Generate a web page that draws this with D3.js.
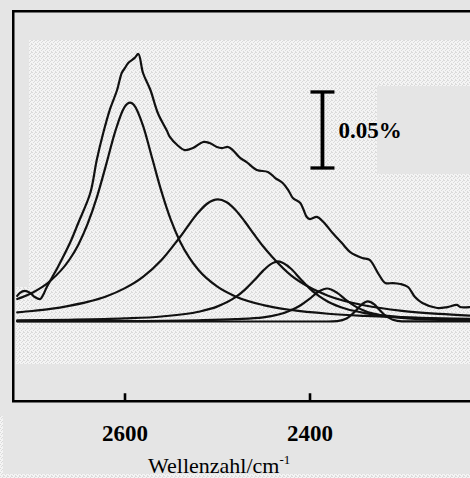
<!DOCTYPE html>
<html>
<head>
<meta charset="utf-8">
<script src="https://cdn.jsdelivr.net/npm/d3@7"></script>
<style>
  html, body { margin: 0; padding: 0; background: #e5e5e5; }
  svg { display: block; }
</style>
</head>
<body>
<svg id="chart" width="470" height="478"></svg>
<script>
// ---- data: wavenumber (cm^-1) and absorbance (%) ----
const tickValues = [2600, 2400];
const tickLabels = ["2600", "2400"];
const xLabel = "Wellenzahl/cm";
const xLabelSup = "-1";
const scaleBarValue = 0.05;
const scaleBarBase = 0.101;
const scaleBarAt = 2386;
const scaleBarLabel = "0.05%";

// measured spectrum
const totalWn = [2716, 2713, 2708, 2702, 2697, 2691, 2688, 2684, 2678, 2672, 2659, 2650, 2637, 2630, 2623, 2616, 2608, 2603, 2599.5, 2596, 2589, 2585, 2580, 2572, 2564, 2554, 2551, 2543, 2535, 2526, 2515, 2508, 2500, 2495, 2488, 2483, 2475, 2468, 2457, 2445, 2437, 2429, 2423, 2418, 2410, 2403, 2399.5, 2392, 2385, 2375, 2365, 2356, 2343, 2335, 2326, 2318, 2310, 2302, 2293.5, 2286, 2278, 2262, 2251, 2240.5, 2237, 2227];
const totalAbs = [0.0168, 0.0188, 0.0201, 0.0188, 0.0161, 0.0148, 0.0174, 0.0227, 0.0293, 0.0359, 0.0516, 0.0648, 0.0845, 0.1063, 0.1240, 0.1391, 0.1523, 0.1635, 0.1668, 0.1701, 0.1734, 0.1760, 0.1635, 0.1523, 0.1372, 0.1253, 0.1214, 0.1161, 0.1128, 0.1141, 0.1181, 0.1174, 0.1148, 0.1141, 0.1148, 0.1128, 0.1076, 0.1049, 0.0997, 0.0984, 0.0944, 0.0911, 0.0865, 0.0813, 0.0780, 0.0688, 0.0674, 0.0688, 0.0655, 0.0582, 0.0516, 0.0457, 0.0418, 0.0405, 0.0319, 0.0253, 0.0253, 0.0247, 0.0227, 0.0161, 0.0122, 0.0089, 0.0095, 0.0109, 0.0095, 0.0095];

// fitted bands
const band1Wn  = [2716, 2700, 2680, 2660, 2650, 2640, 2630, 2620, 2610, 2600, 2594, 2590, 2580, 2570, 2560, 2550, 2540, 2530, 2520, 2500, 2480, 2450, 2420, 2380, 2340, 2300, 2260, 2227];
const band1Abs = [0.0148, 0.0188, 0.0268, 0.0403, 0.0504, 0.0640, 0.0815, 0.1029, 0.1251, 0.1410, 0.1440, 0.1426, 0.1289, 0.1072, 0.0854, 0.0670, 0.0527, 0.0420, 0.0339, 0.0231, 0.0165, 0.0108, 0.0076, 0.0051, 0.0037, 0.0028, 0.0021, 0.0018];

const band2Wn  = [2716, 2700, 2680, 2660, 2640, 2620, 2600, 2580, 2560, 2540, 2520, 2510, 2499, 2490, 2480, 2470, 2460, 2450, 2440, 2420, 2400, 2380, 2340, 2300, 2260, 2227];
const band2Abs = [0.0060, 0.0069, 0.0083, 0.0103, 0.0129, 0.0165, 0.0218, 0.0294, 0.0405, 0.0556, 0.0719, 0.0778, 0.0803, 0.0786, 0.0734, 0.0658, 0.0574, 0.0493, 0.0423, 0.0304, 0.0225, 0.0170, 0.0105, 0.0070, 0.0050, 0.0039];

const band3Wn  = [2716, 2660, 2600, 2560, 2520, 2500, 2480, 2470, 2460, 2450, 2440, 2434, 2420, 2410, 2400, 2390, 2380, 2360, 2340, 2300, 2260, 2227];
const band3Abs = [0.0007, 0.0011, 0.0020, 0.0033, 0.0064, 0.0098, 0.0160, 0.0208, 0.0269, 0.0335, 0.0384, 0.0395, 0.0347, 0.0281, 0.0218, 0.0168, 0.0130, 0.0082, 0.0055, 0.0029, 0.0018, 0.0013];

const band4Wn  = [2716, 2600, 2520, 2480, 2450, 2420, 2410, 2400, 2390, 2381, 2370, 2360, 2350, 2340, 2320, 2300, 2260, 2227];
const band4Abs = [0.0002, 0.0003, 0.0008, 0.0015, 0.0027, 0.0074, 0.0105, 0.0149, 0.0197, 0.0217, 0.0188, 0.0139, 0.0098, 0.0069, 0.0038, 0.0023, 0.0011, 0.0007];

const band5Wn  = [2716, 2400, 2380, 2370, 2360, 2350, 2345, 2340, 2337, 2330, 2325, 2320, 2310, 2300, 2260, 2227];
const band5Abs = [0, 0, 0, 0.0003, 0.0020, 0.0071, 0.0104, 0.0127, 0.0132, 0.0112, 0.0081, 0.0049, 0.0011, 0.0001, 0, 0];

// ---- drawing ----
const svg = d3.select("#chart");
const x = d3.scaleLinear().domain([2717.3, 2226.5]).range([16, 470]);
const y = d3.scaleLinear().domain([0, 0.2]).range([321.5, 17.5]);

// stipple texture
const defs = svg.append("defs");
const pat = defs.append("pattern").attr("id", "stip").attr("patternUnits", "userSpaceOnUse")
  .attr("width", 4).attr("height", 4);
pat.append("rect").attr("width", 4).attr("height", 4).attr("fill", "#f4f4f4");
[[0,0],[2,1],[1,2],[3,3],[3,0]].forEach(([a,b]) =>
  pat.append("rect").attr("x", a).attr("y", b).attr("width", 1).attr("height", 1).attr("fill", "#dadada"));

const bg = svg.append("g");
bg.append("rect").attr("x", 29).attr("y", 40).attr("width", 441).attr("height", 324).attr("fill", "url(#stip)");
bg.append("rect").attr("x", 16).attr("y", 287).attr("width", 13).attr("height", 77).attr("fill", "url(#stip)");
bg.append("rect").attr("x", 377).attr("y", 86).attr("width", 93).attr("height", 88).attr("fill", "#e5e5e5");
bg.append("rect").attr("x", 0).attr("y", 474).attr("width", 470).attr("height", 4).attr("fill", "url(#stip)");
bg.append("rect").attr("x", 0).attr("y", 416).attr("width", 3).attr("height", 62).attr("fill", "url(#stip)");

// frame
svg.append("rect").attr("x", 13.25).attr("y", 11.25).attr("width", 480).attr("height", 390)
  .attr("fill", "none").attr("stroke", "#000").attr("stroke-width", 2.5);

// axis ticks
const axis = d3.axisBottom(x).tickValues(tickValues)
  .tickFormat((d, i) => tickLabels[i]).tickSizeInner(-8).tickSizeOuter(0).tickPadding(23);
const ax = svg.append("g").attr("transform", "translate(0,401.25)").call(axis);
ax.select(".domain").remove();
ax.selectAll(".tick line").attr("stroke", "#000").attr("stroke-width", 2.6);
ax.selectAll(".tick text").attr("fill", "#000")
  .style("font-family", "'Liberation Serif', 'Times New Roman', serif")
  .style("font-weight", "bold").style("font-size", "23px");

// axis title
const t = svg.append("text").attr("x", 148).attr("y", 473)
  .style("font-family", "'Liberation Serif', 'Times New Roman', serif")
  .style("font-size", "22px").attr("fill", "#000");
t.append("tspan").text(xLabel);
t.append("tspan").attr("dy", -9).style("font-size", "13px").text(xLabelSup);

// curves
const line = d3.line().x(d => x(d[0])).y(d => y(d[1]));
const zip = (a, b) => a.map((v, i) => [v, b[i]]);
const series = [
  [band5Wn, band5Abs], [band4Wn, band4Abs], [band3Wn, band3Abs],
  [band2Wn, band2Abs], [band1Wn, band1Abs]
];
const curves = svg.append("g").attr("fill", "none").attr("stroke", "#111").attr("stroke-width", 2.2)
  .attr("stroke-linejoin", "round").attr("stroke-linecap", "round");
series.forEach(([w, a]) => {
  curves.append("path").attr("d", line.curve(d3.curveMonotoneX)(zip(w, a)));
});
curves.append("path").attr("d", line.curve(d3.curveCatmullRom.alpha(0.5))(zip(totalWn, totalAbs)));

// scale bar
const sb = svg.append("g").attr("stroke", "#000");
const sx = x(scaleBarAt);
const yTop = y(scaleBarBase + scaleBarValue), yBot = y(scaleBarBase);
sb.append("line").attr("x1", sx).attr("x2", sx).attr("y1", yTop).attr("y2", yBot).attr("stroke-width", 3.8);
sb.append("line").attr("x1", sx - 12).attr("x2", sx + 12).attr("y1", yTop).attr("y2", yTop).attr("stroke-width", 3.3);
sb.append("line").attr("x1", sx - 12).attr("x2", sx + 12).attr("y1", yBot).attr("y2", yBot).attr("stroke-width", 3.3);
svg.append("text").attr("x", sx + 16).attr("y", (yTop + yBot) / 2 + 8)
  .style("font-family", "'Liberation Serif', 'Times New Roman', serif")
  .style("font-weight", "bold").style("font-size", "23px").attr("fill", "#000").text(scaleBarLabel);
</script>
</body>
</html>
